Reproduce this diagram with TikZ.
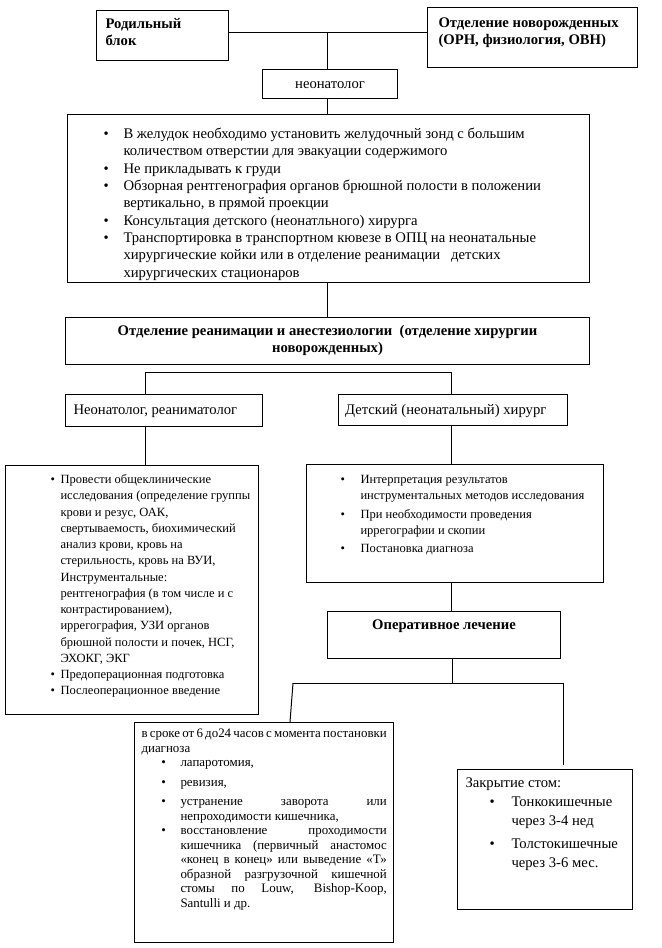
\documentclass[tikz,border=0pt]{standalone}
\usepackage{fontspec}
\setmainfont{Liberation Serif}
\usepackage{enumitem}
\usetikzlibrary{positioning,calc}
\setlist[itemize]{nosep, label=\textbullet}

\newcommand{\boxbody}[3]{\begin{minipage}[t][#2][t]{#1}#3\end{minipage}}

\begin{document}
\begin{tikzpicture}[x=0.75pt, y=-0.75pt,
        box/.style={draw, line width=0.75pt, anchor=north west, inner sep=0pt},
        big/.style={font=\fontsize{11}{13}\selectfont},
        head/.style={font=\fontsize{11}{13}\selectfont\bfseries},
        small/.style={font=\fontsize{9.4}{12.2}\selectfont},
        note/.style={font=\fontsize{9.7}{10.9}\selectfont},
        link/.style={line width=0.75pt}]

    \path[use as bounding box, fill=white] (0,0) rectangle (661,948);

    % top row
    \node[box, head] (rod) at (96,10) {\boxbody{99pt}{37.5pt}{\vspace*{4.4pt}\leftskip=6.75pt\strut Родильный\\блок}};
    \node[box, head] (ovn) at (427,7) {\boxbody{157.5pt}{45pt}{\vspace*{5.9pt}\leftskip=8.25pt\strut Отделение новорожденных\\(ОРН, физиология, ОВН)}};
    \node[box, big] (neo) at (262,69) {\boxbody{101.25pt}{21.75pt}{\centering\vspace*{5.15pt}\strut неонатолог}};

    \node[box, big] (list1) at (67,114) {\boxbody{391.5pt}{126pt}{\vspace*{8.9pt}%
        \begin{itemize}[leftmargin=42pt, labelsep=11.15pt]
            \item\strut В желудок необходимо установить желудочный зонд с большим\\количеством отверстии для эвакуации содержимого
            \item Не прикладывать к груди
            \item Обзорная рентгенография органов брюшной полости в положении\\вертикально, в прямой проекции
            \item Консультация детского (неонатльного) хирурга
            \item Транспортировка в транспортном кювезе в ОПЦ на неонатальные\\хирургические койки или в отделение реанимации\ \ \ детских\\хирургических стационаров
        \end{itemize}}};

    \node[box, head] (oria) at (65,317) {\boxbody{393pt}{35.25pt}{\centering\vspace*{4.4pt}\strut Отделение реанимации и анестезиологии\ \ (отделение хирургии\\новорожденных)}};

    % two branches
    \node[box, big] (neoream) at (65,394) {\boxbody{147.75pt}{24pt}{\vspace*{5.9pt}\leftskip=6pt\strut Неонатолог, реаниматолог}};
    \node[box, big] (det) at (338,394) {\boxbody{171.75pt}{23.25pt}{\vspace*{5.9pt}\leftskip=5pt\strut Детский (неонатальный) хирург}};

    \node[box, small] (leftbig) at (5,465) {\boxbody{189.75pt}{186.75pt}{\vspace*{4.96pt}%
        \begin{itemize}[leftmargin=41.25pt, labelsep=4.2pt]
            \item\strut Провести общеклинические\\исследования (определение группы\\крови и резус, ОАК,\\свертываемость, биохимический\\анализ крови, кровь на\\стерильность, кровь на ВУИ,\\Инструментальные:\\рентгенография (в том числе и с\\контрастированием),\\иррегография, УЗИ органов\\брюшной полости и почек, НСГ,\\ЭХОКГ, ЭКГ
            \item Предоперационная подготовка
            \item Послеоперационное введение
        \end{itemize}}};

    \node[box, small] (interp) at (306,464) {\boxbody{222.75pt}{88.5pt}{\vspace*{5.7pt}%
        \begin{itemize}[leftmargin=40.5pt, labelsep=11.7pt, itemsep=1.5pt]
            \item\strut Интерпретация результатов\\инструментальных методов исследования
            \item При необходимости проведения\\иррегографии и скопии
            \item Постановка диагноза
        \end{itemize}}};

    \node[box, head] (operat) at (327,611) {\boxbody{174.75pt}{35.25pt}{\centering\vspace*{4.4pt}\strut Оперативное лечение}};

    % bottom row
    \node[box, note] (srok) at (134,722) {\boxbody{194.25pt}{165pt}{\vspace*{3.6pt}%
        {\leftskip=5.25pt\rightskip=5pt\strut в сроке от 6 до24 часов с момента постановки\linebreak диагноза\par}
        \begin{itemize}[leftmargin=34.5pt, labelsep=11pt, rightmargin=5pt]
            \item лапаротомия,\par\vspace{4pt}
            \item ревизия,\par\vspace{3.5pt}
            \item устранение заворота или\linebreak непроходимости кишечника,
            \item восстановление проходимости\linebreak кишечника (первичный анастомос\linebreak «конец в конец» или выведение «Т»\linebreak образной разгрузочной кишечной\linebreak стомы по Louw, Bishop-Koop,\linebreak Santulli и др.
        \end{itemize}}};

    \node[box, font=\fontsize{11}{14.3}\selectfont] (zakr) at (457,769) {\boxbody{131.25pt}{105pt}{\vspace*{3.5pt}%
        {\leftskip=6pt\strut Закрытие стом:\par}
        \begin{itemize}[leftmargin=40.5pt, labelsep=12.65pt, itemsep=3pt]
            \item Тонкокишечные\\через 3-4 нед
            \item Толстокишечные\\через 3-6 мес.
        \end{itemize}}};

    % connectors
    \coordinate (tj) at (327,33);
    \draw[link] (rod.east |- tj) -- (ovn.west |- tj);
    \draw[link] (tj) -- (tj |- neo.north);
    \draw[link] (tj |- neo.south) -- (tj |- list1.north);
    \draw[link] (tj |- list1.south) -- (tj |- oria.north);

    \coordinate (forkL) at (145,372);
    \coordinate (forkR) at (451,372);
    \draw[link] (forkL |- neoream.north) -- (forkL) -- (forkR) -- (forkR |- det.north);
    \draw[link] (forkL |- neoream.south) -- (forkL |- leftbig.north);
    \draw[link] (forkR |- det.south) -- (forkR |- interp.north);
    \draw[link] (forkR |- interp.south) -- (forkR |- operat.north);

    \coordinate (forkB) at (452,683);
    \coordinate (forkBL) at (293,683);
    \coordinate (forkBR) at (563,683);
    \draw[link] (forkB |- operat.south) -- (forkB);
    \draw[link] (forkBL) -- (forkBR);
    \draw[link] (forkBL) -- ([xshift=-2.25pt]forkBL |- srok.north);
    \draw[link, shorten >=3pt] (forkBR) -- (forkBR |- zakr.north);

\end{tikzpicture}
\end{document}
